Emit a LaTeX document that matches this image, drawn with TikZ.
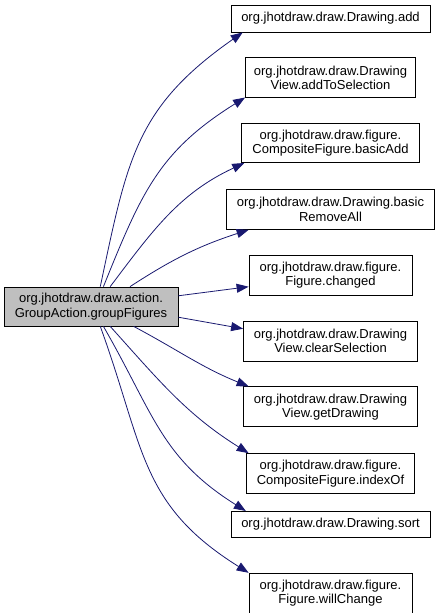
\documentclass[tikz,border=0pt]{standalone}
\usepackage{fontspec}
\setmainfont{Liberation Sans}
\usepackage{xcolor}
\usetikzlibrary{arrows.meta, positioning}
\definecolor{edgeblue}{HTML}{191970}

\begin{document}
\begin{tikzpicture}[x=1pt, y=1pt, >={Triangle[length=12pt, width=9pt]}, node distance=25pt,
            fn/.style={draw=black, line width=0.8pt, fill=white, align=center, inner sep=2pt,
                       minimum height=40pt, font=\fontsize{13}{14.3}\selectfont},
            fnone/.style={fn, minimum height=27pt},
            call/.style={->, draw=edgeblue, line width=0.8pt}]

            \useasboundingbox (0,0) rectangle (440,-613);

            \node[fn, fill=black!25, minimum width=174pt, minimum height=39pt] (grp) at (91,-306.5)
                {org.jhotdraw.draw.action.\\GroupAction.groupFigures};

            \node[fnone, minimum width=199pt] (d_add) at (330.5,-18.5) {org.jhotdraw.draw.Drawing.add};
            \node[fn, minimum width=170pt, below=of d_add] (dv_addsel) {org.jhotdraw.draw.Drawing\\View.addToSelection};
            \node[fn, minimum width=178pt, minimum height=39pt, below=of dv_addsel] (cf_badd) {org.jhotdraw.draw.figure.\\CompositeFigure.basicAdd};
            \node[fn, minimum width=208pt, below=26pt of cf_badd] (d_brem) {org.jhotdraw.draw.Drawing.basic\\RemoveAll};
            \node[fn, minimum width=163pt, below=of d_brem] (f_chg) {org.jhotdraw.draw.figure.\\Figure.changed};
            \node[fn, minimum width=174pt, below=of f_chg] (dv_clr) {org.jhotdraw.draw.Drawing\\View.clearSelection};
            \node[fn, minimum width=174pt, below=of dv_clr] (dv_get) {org.jhotdraw.draw.Drawing\\View.getDrawing};
            \node[fn, minimum width=168pt, below=26pt of dv_get] (cf_idx) {org.jhotdraw.draw.figure.\\CompositeFigure.indexOf};
            \node[fnone, minimum width=199pt, minimum height=26pt, below=17pt of cf_idx] (d_sort) {org.jhotdraw.draw.Drawing.sort};
            \node[fn, minimum width=163pt, below=35pt of d_sort] (f_will) {org.jhotdraw.draw.figure.\\Figure.willChange};

            % ===== calls going up =====
            \draw[call] (grp.65) to[out=78, in=215, looseness=1.15] (d_add.189);
            \draw[call] (grp.58) to[out=68, in=212, looseness=1.1] (dv_addsel.193);
            \draw[call] (grp.46) to[out=53, in=205] (cf_badd.193);
            \draw[call] (grp.27) to[out=33, in=198] (d_brem.194);
            \draw[call] (grp.7) -- (f_chg.188);

            % ===== calls going down =====
            \draw[call] (grp.-7) -- (dv_clr.172);
            \draw[call] (grp.-25) to[out=-28, in=158] (dv_get.166);
            \draw[call] (grp.-46) to[out=-48, in=148] (cf_idx.166);
            \draw[call] (grp.-58) to[out=-60, in=148, looseness=1.1] (d_sort.171);
            \draw[call] (grp.-65) to[out=-70, in=148, looseness=1.15] (f_will.166);
        \end{tikzpicture}
\end{document}
